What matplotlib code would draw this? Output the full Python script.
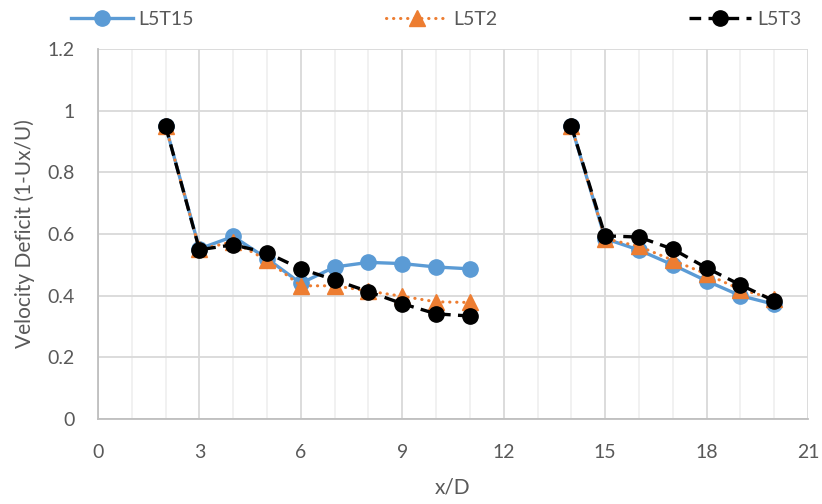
import numpy as np
import matplotlib
matplotlib.use("Agg")
import matplotlib.pyplot as plt
from matplotlib.ticker import MultipleLocator

plt.rcParams['font.family'] = ['Lato', 'DejaVu Sans']

x_vals = [2, 3, 4, 5, 6, 7, 8, 9, 10, 11, 12, 13, 14, 15, 16, 17, 18, 19, 20]
l5t15 = [0.95, 0.552, 0.592, 0.52, 0.44, 0.493, 0.508, 0.504, 0.493, 0.487,
         None, None, 0.95, 0.585, 0.548, 0.50, 0.448, 0.400, 0.372]
l5t2 = [0.95, 0.55, 0.575, 0.515, 0.432, 0.432, 0.415, 0.398, 0.380, 0.378,
        None, None, 0.95, 0.585, 0.56, 0.515, 0.47, 0.42, 0.39]
l5t3 = [0.95, 0.549, 0.565, 0.539, 0.487, 0.451, 0.413, 0.374, 0.341, 0.334,
        None, None, 0.95, 0.594, 0.590, 0.551, 0.490, 0.435, 0.383]

x_ticks = [0, 3, 6, 9, 12, 15, 18, 21]
y_ticks = [0, 0.2, 0.4, 0.6, 0.8, 1.0, 1.2]
y_tick_labels = ['0', '0.2', '0.4', '0.6', '0.8', '1', '1.2']
series_names = ['L5T15', 'L5T2', 'L5T3']


def arr(v):
    return np.array([np.nan if a is None else a for a in v], dtype=float)


fig = plt.figure(figsize=(8.22, 5.04), dpi=100)
ax = fig.add_axes([98 / 822, 1 - 419 / 504, (808 - 98) / 822, (419 - 49) / 504])

text_col = '#595959'
ax.set_xlim(0, 21)
ax.set_ylim(0, 1.2)
ax.set_xticks(x_ticks)
ax.set_xticklabels([str(t) for t in x_ticks])
ax.xaxis.set_minor_locator(MultipleLocator(1))
ax.set_yticks(y_ticks)
ax.set_yticklabels(y_tick_labels)

ax.grid(True, which='major', axis='both', color='#d9d9d9', linewidth=1.3)
ax.grid(True, which='minor', axis='x', color='#f0f0f0', linewidth=1.3)
ax.set_axisbelow(True)
for s in ['top', 'right']:
    ax.spines[s].set_visible(False)
for s in ['left', 'bottom']:
    ax.spines[s].set_color('#bfbfbf')
    ax.spines[s].set_linewidth(1.3)
ax.tick_params(which='both', length=0, labelsize=14, colors=text_col)
ax.tick_params(axis='x', pad=18)
ax.tick_params(axis='y', pad=17)

x = np.array(x_vals, dtype=float)
ax.plot(x, arr(l5t15), color='#5B9BD5', linewidth=2.4, marker='o',
        markersize=11, label=series_names[0], zorder=3)
ax.plot(x, arr(l5t2), color='#ED7D31', linewidth=2.2, linestyle=(0, (0.1, 2.2)),
        dash_capstyle='round', marker='^', markersize=11,
        label=series_names[1], zorder=4)
ax.plot(x, arr(l5t3), color='black', linewidth=2.4, linestyle=(0, (3.5, 2.2)),
        marker='o', markersize=11, label=series_names[2], zorder=5)

ax.set_xlabel('x/D', fontsize=15, color=text_col, labelpad=12)
ax.set_ylabel('Velocity Deficit (1-Ux/U)', fontsize=15, color=text_col, labelpad=9)

handles, labels = ax.get_legend_handles_labels()
fig.legend(handles, labels, loc='upper left', ncol=3, mode='expand',
           bbox_to_anchor=(60 / 822, 1.0, (812 - 60) / 822, 0.0),
           frameon=False, fontsize=14, labelcolor=text_col,
           handlelength=3.2, handletextpad=0.3, borderaxespad=0.15)

fig.savefig('out.png', dpi=100)
